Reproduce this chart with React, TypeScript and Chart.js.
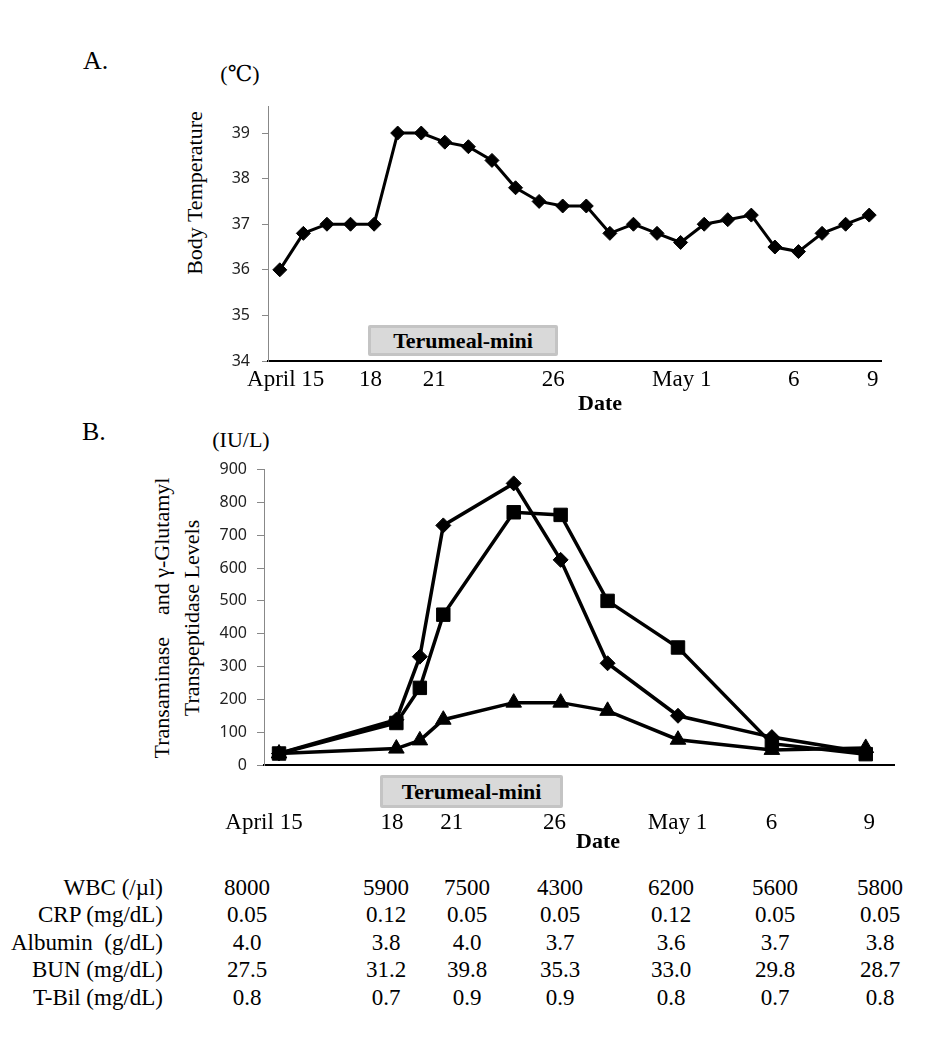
import React, { useEffect, useRef } from "react";
import { Chart, registerables } from "chart.js";

Chart.register(...registerables);

// ---------- Panel A: body temperature (one reading per day slot) ----------
const tempSlots = [0, 1, 2, 3, 4, 5, 6, 7, 8, 9, 10, 11, 12, 13, 14, 15, 16, 17, 18, 19, 20, 21, 22, 23, 24, 25];
const tempValues = [36.0, 36.8, 37.0, 37.0, 37.0, 39.0, 39.0, 38.8, 38.7, 38.4, 37.8, 37.5, 37.4, 37.4, 36.8, 37.0, 36.8, 36.6, 37.0, 37.1, 37.2, 36.5, 36.4, 36.8, 37.0, 37.2];
const tempTickPos = [0.25, 3.85, 6.55, 11.6, 17.05, 21.8, 25.15];
const tempTickLabels = ["April 15", "18", "21", "26", "May 1", "6", "9"];

// ---------- Panel B: transaminase / GGT ----------
const labSlots = [0, 5, 6, 7, 10, 12, 14, 17, 21, 25];
const diamondValues = [35, 138, 330, 730, 858, 625, 310, 150, 85, 38];
const squareValues = [35, 128, 235, 458, 770, 762, 500, 358, 65, 33];
const triangleValues = [35, 50, 75, 138, 190, 190, 165, 77, 46, 52];
const labTickPos = [-0.64, 4.81, 7.36, 11.74, 16.98, 20.98, 25.15];
const labTickLabels = ["April 15", "18", "21", "26", "May 1", "6", "9"];

// ---------- Table ----------
const tableRowLabels = ["WBC (/µl)", "CRP (mg/dL)", "Albumin  (g/dL)", "BUN (mg/dL)", "T-Bil (mg/dL)"];
const wbcValues = ["8000", "5900", "7500", "4300", "6200", "5600", "5800"];
const crpValues = ["0.05", "0.12", "0.05", "0.05", "0.12", "0.05", "0.05"];
const albuminValues = ["4.0", "3.8", "4.0", "3.7", "3.6", "3.7", "3.8"];
const bunValues = ["27.5", "31.2", "39.8", "35.3", "33.0", "29.8", "28.7"];
const tbilValues = ["0.8", "0.7", "0.9", "0.9", "0.8", "0.7", "0.8"];

const SERIF = "'Liberation Serif', 'DejaVu Serif', serif";
const SANS = "'Noto Sans', 'Liberation Sans', sans-serif";

function TempChart() {
  const ref = useRef<HTMLCanvasElement | null>(null);
  useEffect(() => {
    if (!ref.current) return;
    const chart = new Chart(ref.current, {
      type: "line",
      data: {
        datasets: [
          {
            data: tempSlots.map((s, i) => ({ x: s, y: tempValues[i] })),
            borderColor: "#000",
            borderWidth: 3,
            pointStyle: "rectRot",
            pointRadius: 7,
            pointBackgroundColor: "#000",
            pointBorderColor: "#000",
            pointBorderWidth: 1,
            tension: 0,
            clip: false,
          } as any,
        ],
      },
      options: {
        animation: false,
        responsive: false,
        maintainAspectRatio: false,
        layout: { padding: { left: 0, top: 10, right: 39, bottom: 0 } },
        plugins: { legend: { display: false }, tooltip: { enabled: false } },
        scales: {
          x: {
            type: "linear",
            min: -0.5,
            max: 25.5,
            bounds: "data",
            afterBuildTicks: (s: any) => {
              s.ticks = tempTickPos.map((v) => ({ value: v }));
            },
            afterFit: (s: any) => {
              s.height = 54;
            },
            ticks: {
              autoSkip: false,
              maxRotation: 0,
              minRotation: 0,
              padding: 5,
              color: "#000",
              font: { family: SERIF, size: 23 },
              callback: (_v: any, i: number) => tempTickLabels[i],
            },
            grid: { display: false, drawTicks: false },
            border: { color: "#000", width: 2 },
          },
          y: {
            type: "linear",
            min: 34,
            max: 39.58,
            bounds: "data",
            afterFit: (s: any) => {
              s.width = 68;
            },
            ticks: {
              stepSize: 1,
              includeBounds: false,
              padding: 12,
              color: "#222",
              font: { family: SANS, size: 16 },
            },
            grid: { drawOnChartArea: false, drawTicks: true, tickLength: 6, color: "#888" },
            border: { color: "#888", width: 1 },
          },
        },
      } as any,
    });
    return () => chart.destroy();
  }, []);
  return (
    <canvas
      ref={ref}
      width={720}
      height={330}
      style={{ position: "absolute", left: 200, top: 85, width: 720, height: 330 }}
    />
  );
}

function LabChart() {
  const ref = useRef<HTMLCanvasElement | null>(null);
  useEffect(() => {
    if (!ref.current) return;
    const mk = (vals: number[], style: string, radius: number) =>
      ({
        data: labSlots.map((s, i) => ({ x: s, y: vals[i] })),
        borderColor: "#000",
        borderWidth: 3.5,
        pointStyle: style,
        pointRadius: radius,
        pointBackgroundColor: "#000",
        pointBorderColor: "#000",
        pointBorderWidth: 1,
        tension: 0,
        clip: false,
      } as any);
    const chart = new Chart(ref.current, {
      type: "line",
      data: {
        datasets: [
          mk(squareValues, "rect", 9.5),
          mk(diamondValues, "rectRot", 7.5),
          mk(triangleValues, "triangle", 9),
        ],
      },
      options: {
        animation: false,
        responsive: false,
        maintainAspectRatio: false,
        layout: { padding: { left: 0, top: 13, right: 25, bottom: 0 } },
        plugins: { legend: { display: false }, tooltip: { enabled: false } },
        scales: {
          x: {
            type: "linear",
            min: -0.64,
            max: 26.21,
            bounds: "data",
            afterBuildTicks: (s: any) => {
              s.ticks = labTickPos.map((v) => ({ value: v }));
            },
            afterFit: (s: any) => {
              s.height = 85;
            },
            ticks: {
              autoSkip: false,
              maxRotation: 0,
              minRotation: 0,
              padding: 44,
              color: "#000",
              font: { family: SERIF, size: 23 },
              callback: (_v: any, i: number) => labTickLabels[i],
            },
            grid: { display: false, drawTicks: false },
            border: { color: "#000", width: 2 },
          },
          y: {
            type: "linear",
            min: 0,
            max: 900,
            bounds: "data",
            afterFit: (s: any) => {
              s.width = 124;
            },
            ticks: {
              stepSize: 100,
              padding: 10,
              color: "#222",
              font: { family: SANS, size: 16 },
            },
            grid: { drawOnChartArea: false, drawTicks: true, tickLength: 7, color: "#888" },
            border: { color: "#888", width: 1 },
          },
        },
      } as any,
    });
    return () => chart.destroy();
  }, []);
  return (
    <canvas
      ref={ref}
      width={780}
      height={400}
      style={{ position: "absolute", left: 140, top: 450, width: 780, height: 400 }}
    />
  );
}

const abs = (left: number, top: number, extra: React.CSSProperties = {}): React.CSSProperties => ({
  position: "absolute",
  left,
  top,
  lineHeight: 1,
  whiteSpace: "pre",
  color: "#000",
  fontFamily: SERIF,
  ...extra,
});

function Box({ left, top, width, height }: { left: number; top: number; width: number; height: number }) {
  return (
    <div
      style={abs(left, top, {
        width,
        height,
        boxSizing: "border-box",
        background: "#d9d9d9",
        border: "3px solid #c4c4c4",
        borderRadius: 2,
        fontWeight: "bold",
        fontSize: 22,
        display: "flex",
        alignItems: "center",
        justifyContent: "center",
      })}
    >
      Terumeal-mini
    </div>
  );
}

export default function App() {
  const rows = [wbcValues, crpValues, albuminValues, bunValues, tbilValues];
  const rowCenters = [887, 914.5, 942, 969.5, 997];
  const colCenters = [247, 386, 467, 560, 671, 775, 880];
  return (
    <div
      style={{
        position: "absolute",
        left: 0,
        top: 0,
        width: 945,
        height: 1038,
        background: "#fff",
        overflow: "hidden",
      }}
    >
      {/* Panel A */}
      <div style={abs(83, 48, { fontSize: 26 })}>A.</div>
      <div style={abs(210, 63, { fontSize: 22, width: 60, textAlign: "center" })}>(℃)</div>
      <div
        style={abs(95, 180, {
          width: 200,
          height: 26,
          fontSize: 22,
          lineHeight: "26px",
          textAlign: "center",
          transform: "rotate(-90deg)",
        })}
      >
        Body Temperature
      </div>
      <TempChart />
      <Box left={368} top={325} width={190} height={31} />
      <div style={abs(560, 392, { fontSize: 22, fontWeight: "bold", width: 80, textAlign: "center" })}>Date</div>

      {/* Panel B */}
      <div style={abs(82, 419, { fontSize: 26 })}>B.</div>
      <div style={abs(201, 429, { fontSize: 22, width: 80, textAlign: "center" })}>(IU/L)</div>
      <div
        style={abs(17, 588, {
          width: 320,
          height: 60,
          fontSize: 22,
          lineHeight: "30px",
          textAlign: "center",
          transform: "rotate(-90deg)",
        })}
      >
        {"Transaminase    and γ-Glutamyl\nTranspeptidase Levels"}
      </div>
      <LabChart />
      <Box left={380} top={775} width={183} height={33} />
      <div style={abs(558, 830, { fontSize: 22, fontWeight: "bold", width: 80, textAlign: "center" })}>Date</div>

      {/* Table */}
      {tableRowLabels.map((lab, r) => (
        <div key={"l" + r} style={abs(0, rowCenters[r] - 11.5, { fontSize: 23, width: 163, textAlign: "right" })}>
          {lab}
        </div>
      ))}
      {rows.map((vals, r) =>
        vals.map((v, c) => (
          <div
            key={r + "-" + c}
            style={abs(colCenters[c] - 40, rowCenters[r] - 11.5, { fontSize: 23, width: 80, textAlign: "center" })}
          >
            {v}
          </div>
        ))
      )}
    </div>
  );
}
